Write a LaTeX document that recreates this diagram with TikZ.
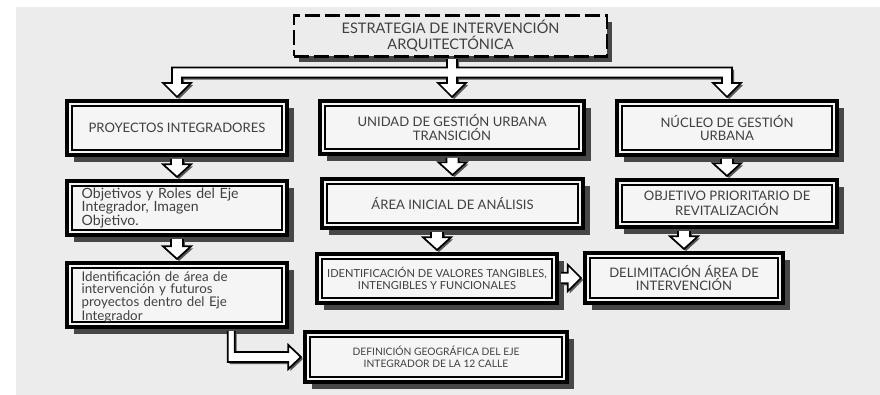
\documentclass[tikz,border=0pt]{standalone}
\usepackage{fontspec}
\setmainfont{Lato}
\usetikzlibrary{shadows,calc}
\definecolor{bg}{HTML}{ECECEC}
\definecolor{boxfill}{HTML}{F5F5F5}
\definecolor{txt}{HTML}{404040}
\tikzset{
  wh/.style 2 args={minimum width=#1*0.75pt, minimum height=#2*0.75pt},
  boxbase/.style={draw=black, line width=3pt, fill=boxfill, text=txt, inner sep=2pt,
    drop shadow={shadow xshift=5pt, shadow yshift=-5pt, fill=black!72, opacity=1},
    path picture={\draw[line width=0.8pt] ([shift={(3.75pt,-3.75pt)}]path picture bounding box.north west) rectangle ([shift={(-3.75pt,3.75pt)}]path picture bounding box.south east);}},
  cbox/.style={boxbase, align=center, font=\fontsize{9.8}{9.8}\selectfont},
  sbox/.style={boxbase, align=center, font=\fontsize{8.3}{9.6}\selectfont},
  lbox/.style={boxbase, align=left, text width=143pt, inner xsep=11pt, font=\fontsize{10.6}{10.2}\selectfont},
  topbox/.style={draw=black, line width=2.2pt, dash pattern=on 11pt off 4pt, fill=bg, text=txt, align=center,
    font=\fontsize{10.9}{11.7}\selectfont,
    drop shadow={shadow xshift=4pt, shadow yshift=-4.5pt, fill=black!72, opacity=1}},
  blk/.style={draw=black, line width=1.3pt, fill=white, line join=miter,
    drop shadow={shadow xshift=1.5pt, shadow yshift=-1.5pt, fill=black!65, opacity=1}}
}
\newcommand\vblock[2]{\path[blk] let \p1=(#1.south), \p2=(#2.north) in
  (\x2-4.5pt,\y1-1.5pt) -- (\x2-4.5pt,\y2+11pt) -- (\x2-10.5pt,\y2+11pt) -- (\x2,\y2+1.5pt)
  -- (\x2+10.5pt,\y2+11pt) -- (\x2+4.5pt,\y2+11pt) -- (\x2+4.5pt,\y1-1.5pt);}
\newcommand\hblock[2]{\path[blk] let \p1=(#1.east), \p2=(#2.west) in
  (\x1+1.5pt,\y2+4pt) -- (\x2-11.5pt,\y2+4pt) -- (\x2-11.5pt,\y2+10pt) -- (\x2-1.5pt,\y2)
  -- (\x2-11.5pt,\y2-10pt) -- (\x2-11.5pt,\y2-4pt) -- (\x1+1.5pt,\y2-4pt);}
\begin{document}
\begin{tikzpicture}[x=0.75pt,y=-0.75pt]
\useasboundingbox (0,0) rectangle (880,395);
\fill[bg] (16,7) rectangle (880,395);

\node[topbox, wh={313}{38}] (S) at (450.5,36) {ESTRATEGIA DE INTERVENCIÓN\\ARQUITECTÓNICA};

\node[cbox, wh={220}{54}] (P1) at (177,128) {PROYECTOS INTEGRADORES};
\node[cbox, wh={264}{53}] (U1) at (452,127.5) {UNIDAD DE GESTIÓN URBANA\\TRANSICIÓN};
\node[cbox, wh={220}{54}] (N1) at (727,128) {NÚCLEO DE GESTIÓN\\URBANA};

\node[lbox, wh={220}{54}] (P2) at (177,208) {Objetivos y Roles del Eje\\Integrador, Imagen\\Objetivo.};
\node[cbox, wh={261}{49}] (U2) at (452.5,203.5) {ÁREA INICIAL DE ANÁLISIS};
\node[cbox, wh={220}{47}, font=\fontsize{9.8}{11.2}\selectfont] (N2) at (727,203.5) {OBJETIVO PRIORITARIO DE\\REVITALIZACIÓN};

\node[lbox, wh={220}{64}, font=\fontsize{10}{9}\selectfont] (P3) at (177,295) {\rule{0pt}{10.5pt}Identificación de área de\\intervención y futuros\\proyectos dentro del Eje\\Integrador};
\node[sbox, wh={240}{49}] (U3) at (437,278.5) {IDENTIFICACIÓN DE VALORES TANGIBLES,\\INTENGIBLES Y FUNCIONALES};
\node[cbox, wh={198}{50}] (N3) at (684,278) {DELIMITACIÓN ÁREA DE\\INTERVENCIÓN};

\node[sbox, wh={262}{50}, font=\fontsize{7.7}{9}\selectfont] (D) at (436,357) {DEFINICIÓN GEOGRÁFICA DEL EJE\\INTEGRADOR DE LA 12 CALLE};

% fork arrow
\path[blk] let \p1=(S.south), \p2=(P1.north), \p3=(U1.north), \p4=(N1.north) in
 (\x3-3.75pt,\y1-1.2pt) -- (\x3-3.75pt,\y1-7.5pt) -- (\x2-3.75pt,\y1-7.5pt)
 -- (\x2-3.75pt,\y2+12pt) -- (\x2-10.5pt,\y2+12pt) -- (\x2,\y2+1.5pt) -- (\x2+10.5pt,\y2+12pt) -- (\x2+3.75pt,\y2+12pt)
 -- (\x2+3.75pt,\y1-15pt) -- (\x3-3.75pt,\y1-15pt)
 -- (\x3-3.75pt,\y3+12pt) -- (\x3-10.5pt,\y3+12pt) -- (\x3,\y3+1.5pt) -- (\x3+10.5pt,\y3+12pt) -- (\x3+3.75pt,\y3+12pt)
 -- (\x3+3.75pt,\y1-15pt) -- (\x4-3.75pt,\y1-15pt)
 -- (\x4-3.75pt,\y4+12pt) -- (\x4-10.5pt,\y4+12pt) -- (\x4,\y4+1.5pt) -- (\x4+10.5pt,\y4+12pt) -- (\x4+3.75pt,\y4+12pt)
 -- (\x4+3.75pt,\y1-7.5pt) -- (\x3+3.75pt,\y1-7.5pt) -- (\x3+3.75pt,\y1-1.2pt);

\vblock{P1}{P2}
\vblock{P2}{P3}
\vblock{U1}{U2}
\vblock{U2}{U3}
\vblock{N1}{N2}
\vblock{N2}{N3}
\hblock{U3}{N3}

% L-shaped arrow
\path[blk] let \p1=($(P3.south west)!0.742!(P3.south east)$), \p2=(D.west) in
 (\x1-2.6pt,\y1-1.5pt) -- (\x1-2.6pt,\y2-3.75pt) -- (\x2-11pt,\y2-3.75pt) -- (\x2-11pt,\y2-9pt)
 -- (\x2-1.5pt,\y2) -- (\x2-11pt,\y2+9pt) -- (\x2-11pt,\y2+3.75pt) -- (\x1+2.6pt,\y2+3.75pt) -- (\x1+2.6pt,\y1-1.5pt);
\end{tikzpicture}
\end{document}
